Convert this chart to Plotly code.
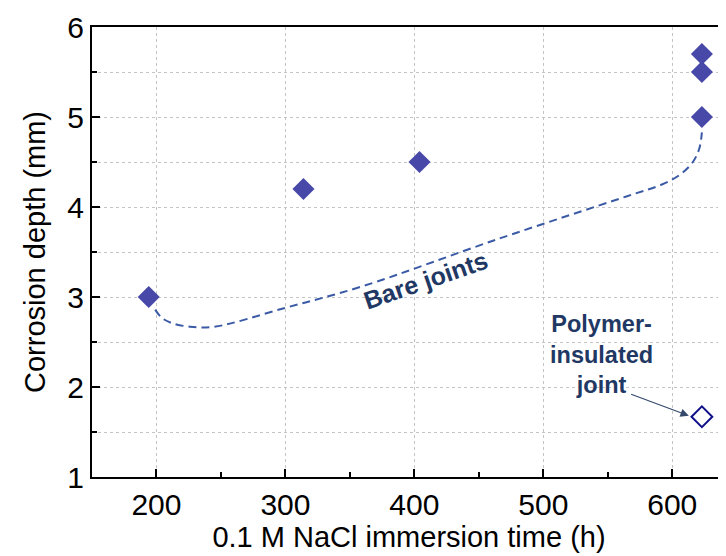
import plotly.graph_objects as go

# Data
bare_time = [194, 314, 404, 623, 623, 623]
bare_depth = [3.0, 4.2, 4.5, 5.0, 5.5, 5.7]
poly_time = [623]
poly_depth = [1.67]

# guide curve (dashed, hand-drawn in original)
guide_x = [199, 204, 212, 226, 245, 300, 360, 464, 565, 592, 606, 616, 621, 623]
guide_y = [2.86, 2.77, 2.71, 2.67, 2.67, 2.88, 3.12, 3.64, 4.12, 4.25, 4.36, 4.50, 4.65, 4.83]

x_ticks = [200, 300, 400, 500, 600]
y_ticks = [1, 2, 3, 4, 5, 6]

FONT = "Liberation Sans, Arial, sans-serif"
NAVY = "#1f3864"

fig = go.Figure()
fig.add_trace(go.Scatter(x=guide_x, y=guide_y, mode="lines",
                         line=dict(color="#3b5aa6", width=2, dash="8px,5px", shape="spline"),
                         hoverinfo="skip", showlegend=False))
fig.add_trace(go.Scatter(x=bare_time, y=bare_depth, mode="markers",
                         marker=dict(symbol="diamond", size=17, color="#4848a8",
                                     line=dict(width=0)),
                         showlegend=False))
fig.add_trace(go.Scatter(x=poly_time, y=poly_depth, mode="markers",
                         marker=dict(symbol="diamond-open", size=16, color="#10108a",
                                     line=dict(width=2)),
                         showlegend=False))

fig.add_annotation(x=409, y=3.19, xref="x", yref="y", text="<b>Bare joints</b>",
                   showarrow=False, textangle=-19,
                   font=dict(family=FONT, size=25, color=NAVY))
fig.add_annotation(x=545, y=2.36, xref="x", yref="y",
                   text="<b>Polymer-<br>insulated<br>joint</b>",
                   showarrow=False, yanchor="middle",
                   font=dict(family=FONT, size=23.5, color=NAVY))
fig.add_annotation(x=612.9, y=1.68, xref="x", yref="y",
                   ax=567, ay=1.926, axref="x", ayref="y", text="",
                   showarrow=True, arrowhead=2, arrowsize=1.4, arrowwidth=1.2,
                   arrowcolor="#34496c", standoff=0)

fig.update_xaxes(range=[150, 641.7], tickvals=x_ticks, ticks="inside", ticklen=8,
                 tickwidth=2, tickcolor="black", showline=True, linecolor="black",
                 linewidth=2, mirror=True, showgrid=True, gridcolor="#c4c4c4",
                 griddash="dot", gridwidth=1, zeroline=False,
                 tickfont=dict(family=FONT, size=30, color="black"),
                 title=dict(text="0.1 M NaCl immersion time (h)", standoff=6,
                            font=dict(family=FONT, size=29, color="black")),
                 minor=dict(ticks="inside", dtick=50, tick0=0, ticklen=5,
                            tickwidth=2, tickcolor="black", showgrid=False))
fig.update_yaxes(range=[1, 6], tickvals=y_ticks, ticks="inside", ticklen=8,
                 tickwidth=2, tickcolor="black", showline=True, linecolor="black",
                 linewidth=2, mirror=False, showgrid=True, gridcolor="#c4c4c4",
                 griddash="dot", gridwidth=1, zeroline=False,
                 tickfont=dict(family=FONT, size=30, color="black"),
                 title=dict(text="Corrosion depth (mm)", standoff=13,
                            font=dict(family=FONT, size=29, color="black")),
                 minor=dict(ticks="inside", dtick=0.5, tick0=0, ticklen=5,
                            tickwidth=2, tickcolor="black", showgrid=True,
                            gridcolor="#c4c4c4", griddash="dot", gridwidth=1))

# page body has an 8px default margin; size/margins compensate so the plot
# area lands at the same place as in the reference
fig.update_layout(width=718, height=548, margin=dict(l=84, r=0, t=19, b=79),
                  plot_bgcolor="white", paper_bgcolor="white")

fig.write_html("out.html")
